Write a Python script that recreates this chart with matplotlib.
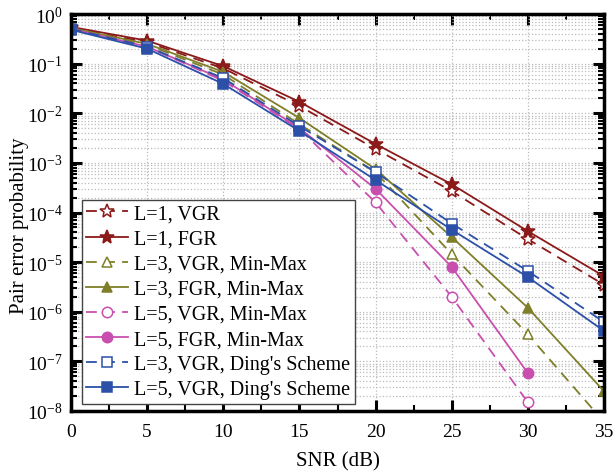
import numpy as np
import matplotlib
matplotlib.use("Agg")
import matplotlib.pyplot as plt
from matplotlib.ticker import LogLocator, MultipleLocator, NullFormatter

plt.rcParams['font.family'] = ['Liberation Serif', 'DejaVu Serif']
plt.rcParams['mathtext.fontset'] = 'stix'

snr = [0, 5, 10, 15, 20, 25, 30, 35]

l1_vgr = [0.52, 0.27, 0.080, 0.014, 1.9e-3, 2.7e-4, 2.9e-5, 3.5e-6]
l1_fgr = [0.55, 0.29, 0.089, 0.017, 2.4e-3, 3.7e-4, 4.2e-5, 5.2e-6]
l3_vgr = [0.51, 0.24, 0.060, 6.0e-3, 6.5e-4, 1.45e-5, 3.5e-7, 6.0e-9]
l3_fgr = [0.52, 0.25, 0.068, 8.0e-3, 7.5e-4, 3.2e-5, 1.2e-6, 2.5e-8]
l5_vgr = [0.50, 0.22, 0.045, 4.8e-3, 1.6e-4, 2.0e-6, 1.5e-8]
l5_fgr = [0.50, 0.22, 0.048, 5.0e-3, 3.0e-4, 8.0e-6, 5.8e-8]
ding_l3 = [0.50, 0.22, 0.051, 5.5e-3, 6.5e-4, 6.0e-5, 6.6e-6, 6.2e-7]
ding_l5 = [0.48, 0.20, 0.039, 4.4e-3, 4.5e-4, 4.5e-5, 5.0e-6, 4.1e-7]

labels = ["L=1, VGR", "L=1, FGR", "L=3, VGR, Min-Max", "L=3, FGR, Min-Max",
          "L=5, VGR, Min-Max", "L=5, FGR, Min-Max",
          "L=3, VGR, Ding's Scheme", "L=5, VGR, Ding's Scheme"]

red = '#8B1A1A'
olive = '#7F7F2A'
pink = '#C94FAE'
blue = '#2C50A8'

fig = plt.figure(figsize=(6.13, 4.77), dpi=100)
ax = fig.add_axes([71/613, 1-412/477, 533/613, 397/477])

ms = 7.5
series = [
    (l1_vgr, red, '--', '*', False, 10),
    (l1_fgr, red, '-', '*', True, 10),
    (l3_vgr, olive, '--', '^', False, ms),
    (l3_fgr, olive, '-', '^', True, ms),
    (l5_vgr, pink, '--', 'o', False, ms),
    (l5_fgr, pink, '-', 'o', True, ms),
    (ding_l3, blue, '--', 's', False, ms),
    (ding_l5, blue, '-', 's', True, ms),
]
for (vals, c, ls, mk, filled, size), lab in zip(series, labels):
    x = snr[:len(vals)]
    ax.plot(x, vals, color=c, linestyle=ls, linewidth=1.3, marker=mk,
            markersize=size, markerfacecolor=c if filled else 'white',
            markeredgecolor=c, markeredgewidth=1.1, label=lab,
            dashes=(6, 4) if ls == '--' else (None, None))

ax.set_yscale('log')
ax.set_xlim(0, 35)
ax.set_ylim(1e-8, 1)
ax.xaxis.set_major_locator(MultipleLocator(5))
ax.xaxis.set_minor_locator(MultipleLocator(2.5))
ax.yaxis.set_major_locator(LogLocator(base=10, numticks=20))
ax.yaxis.set_minor_locator(LogLocator(base=10, subs=np.arange(2, 10), numticks=20))
ax.yaxis.set_minor_formatter(NullFormatter())

ax.grid(True, which='major', axis='both', color='#bbbbbb', linestyle=':', linewidth=0.9)
ax.grid(True, which='minor', axis='y', color='#bbbbbb', linestyle=':', linewidth=0.9)
ax.set_axisbelow(True)

ax.tick_params(which='major', direction='in', length=8, width=2.2, top=True, right=True,
               labelsize=14, pad=6)
ax.tick_params(axis='x', which='major', pad=9)
ax.tick_params(which='minor', direction='in', length=4, width=1.5, top=True, right=True)
for s in ax.spines.values():
    s.set_linewidth(2.5)

ax.set_xlabel('SNR (dB)', fontsize=15, va='center')
ax.xaxis.set_label_coords(0.5, -0.125)
ax.set_ylabel('Pair error probability', fontsize=15, va='center')
ax.yaxis.set_label_coords(-0.097, 0.47)

leg = ax.legend(loc='lower left', bbox_to_anchor=(0.02, 0.018), fontsize=14.5,
                frameon=True, fancybox=False, edgecolor='#444444', framealpha=1,
                borderpad=0.22, labelspacing=0.3, handlelength=2.1, handletextpad=0.3,
                borderaxespad=0)
leg.get_frame().set_linewidth(1.0)

fig.savefig('out.png', dpi=100)
